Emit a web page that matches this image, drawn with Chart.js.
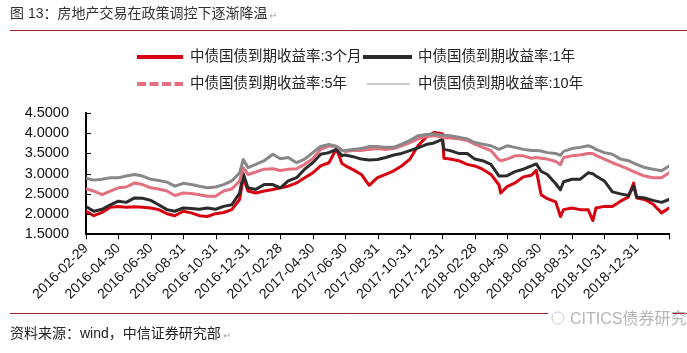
<!DOCTYPE html>
<html>
<head>
<meta charset="utf-8">
<script src="https://cdn.jsdelivr.net/npm/chart.js@4.4.0/dist/chart.umd.min.js"></script>
<style>
  html, body { margin: 0; padding: 0; background: #fff; }
  #wrap { width: 687px; height: 353px; }
</style>
</head>
<body>
<div id="wrap"><canvas id="bondChart" width="687" height="353"></canvas></div>
<script>
// observation dates (roughly half-monthly, plus a few turning points)
const dates = [
  '2016-02-29', '2016-03-15', '2016-03-31', '2016-04-15', '2016-04-30', '2016-05-15', '2016-05-31', '2016-06-15', '2016-06-30', '2016-07-15',
  '2016-07-31', '2016-08-15', '2016-08-31', '2016-09-15', '2016-09-30', '2016-10-15', '2016-10-31', '2016-11-15', '2016-11-30', '2016-12-15',
  '2016-12-22', '2016-12-31', '2017-01-15', '2017-01-31', '2017-02-15', '2017-02-28', '2017-03-15', '2017-03-31', '2017-04-15', '2017-04-30',
  '2017-05-15', '2017-05-31', '2017-06-14', '2017-06-24', '2017-06-30', '2017-07-15', '2017-07-31', '2017-08-15', '2017-08-31', '2017-09-15',
  '2017-09-30', '2017-10-15', '2017-10-31', '2017-11-15', '2017-11-30', '2017-12-15', '2017-12-31', '2018-01-03', '2018-01-15', '2018-01-31',
  '2018-02-15', '2018-02-28', '2018-03-15', '2018-03-31', '2018-04-15', '2018-04-18', '2018-04-30', '2018-05-15', '2018-05-31', '2018-06-15',
  '2018-06-24', '2018-07-03', '2018-07-15', '2018-07-31', '2018-08-09', '2018-08-15', '2018-08-31', '2018-09-15', '2018-09-30', '2018-10-09',
  '2018-10-15', '2018-10-31', '2018-11-15', '2018-11-30', '2018-12-15', '2018-12-25', '2018-12-31', '2019-01-15', '2019-01-31', '2019-02-15',
  '2019-02-28'
];

const yield3m = [
  2.07, 1.96, 2.04, 2.17, 2.19, 2.17, 2.18, 2.17, 2.15, 2.11,
  2.01, 1.96, 2.07, 2.03, 1.96, 1.94, 2.01, 2.04, 2.11, 2.36,
  2.90, 2.57, 2.52, 2.57, 2.61, 2.65, 2.69, 2.77, 2.90, 3.02,
  3.19, 3.27, 3.62, 3.25, 3.20, 3.10, 2.98, 2.71, 2.90, 2.98,
  3.07, 3.19, 3.36, 3.69, 3.90, 4.02, 3.99, 3.38, 3.36, 3.32,
  3.23, 3.19, 3.11, 2.98, 2.72, 2.52, 2.68, 2.77, 2.92, 2.96,
  3.08, 2.48, 2.38, 2.30, 1.94, 2.11, 2.15, 2.11, 2.11, 1.84,
  2.15, 2.19, 2.19, 2.32, 2.42, 2.77, 2.40, 2.36, 2.25, 2.03,
  2.15
];

const yield1y = [
  2.19, 2.07, 2.12, 2.23, 2.32, 2.29, 2.40, 2.39, 2.34, 2.23,
  2.11, 2.07, 2.15, 2.14, 2.12, 2.15, 2.12, 2.19, 2.23, 2.52,
  3.00, 2.65, 2.61, 2.73, 2.73, 2.65, 2.82, 2.90, 3.11, 3.27,
  3.48, 3.52, 3.60, 3.45, 3.46, 3.42, 3.36, 3.34, 3.35, 3.40,
  3.46, 3.50, 3.57, 3.64, 3.72, 3.76, 3.85, 3.60, 3.57, 3.50,
  3.50, 3.36, 3.32, 3.23, 2.94, 2.94, 2.95, 3.05, 3.11, 3.19,
  3.24, 3.06, 2.98, 2.75, 2.60, 2.80, 2.86, 2.86, 3.02, 3.00,
  2.94, 2.82, 2.55, 2.50, 2.46, 2.69, 2.42, 2.40, 2.34, 2.29,
  2.36
];

const yield5y = [
  2.62, 2.57, 2.48, 2.57, 2.65, 2.67, 2.77, 2.73, 2.65, 2.62,
  2.57, 2.46, 2.52, 2.51, 2.48, 2.44, 2.44, 2.57, 2.62, 2.82,
  3.15, 2.98, 3.04, 3.11, 3.12, 3.08, 3.11, 3.12, 3.23, 3.37,
  3.60, 3.68, 3.68, 3.58, 3.55, 3.57, 3.57, 3.60, 3.62, 3.60,
  3.62, 3.69, 3.77, 3.86, 3.92, 3.94, 3.90, 3.89, 3.88, 3.86,
  3.82, 3.73, 3.65, 3.57, 3.34, 3.32, 3.36, 3.44, 3.44, 3.38,
  3.40, 3.38, 3.36, 3.30, 3.22, 3.40, 3.44, 3.46, 3.50, 3.50,
  3.45, 3.36, 3.27, 3.19, 3.11, 3.05, 3.02, 2.94, 2.90, 2.90,
  3.02
];

const yield10y = [
  2.89, 2.84, 2.86, 2.90, 2.90, 2.94, 2.98, 2.94, 2.86, 2.83,
  2.79, 2.69, 2.76, 2.73, 2.69, 2.65, 2.67, 2.73, 2.82, 3.02,
  3.35, 3.15, 3.23, 3.32, 3.48, 3.37, 3.40, 3.27, 3.36, 3.52,
  3.67, 3.72, 3.67, 3.58, 3.57, 3.60, 3.62, 3.67, 3.67, 3.65,
  3.65, 3.73, 3.82, 3.94, 3.97, 3.98, 3.95, 3.95, 3.94, 3.90,
  3.86, 3.77, 3.73, 3.69, 3.60, 3.62, 3.69, 3.65, 3.60, 3.57,
  3.57, 3.56, 3.52, 3.50, 3.45, 3.55, 3.62, 3.65, 3.69, 3.65,
  3.60, 3.52, 3.48, 3.36, 3.32, 3.26, 3.23, 3.15, 3.11, 3.07,
  3.19
];

// x axis labels, one every two months (last tick unlabeled)
const tickLabels = [
  '2016-02-29', '2016-04-30', '2016-06-30', '2016-08-31', '2016-10-31', '2016-12-31',
  '2017-02-28', '2017-04-30', '2017-06-30', '2017-08-31', '2017-10-31', '2017-12-31',
  '2018-02-28', '2018-04-30', '2018-06-30', '2018-08-31', '2018-10-31', '2018-12-31', ''
];

const seriesNames = ['中债国债到期收益率:3个月', '中债国债到期收益率:1年', '中债国债到期收益率:5年', '中债国债到期收益率:10年'];

const FONT = '"Liberation Sans", "Noto Sans CJK SC", sans-serif';

// months since 2016-02-29 (month ends land on whole numbers)
function toMonths(s) {
  const [y, m, d] = s.split('-').map(Number);
  const dim = new Date(y, m, 0).getDate();
  return (y - 2016) * 12 + (m - 3) + d / dim;
}

function points(arr) {
  return dates.map((d, i) => ({ x: toMonths(d), y: arr[i] }));
}

function textWidth(ctx, text, font) {
  const old = ctx.font;
  ctx.font = font;
  const w = ctx.measureText(text).width;
  ctx.font = old;
  return w;
}

// title, legend, footer and the small axis ticks
const decor = {
  id: 'decor',
  afterDraw(chart) {
    const ctx = chart.ctx;
    const xs = chart.scales.x, ys = chart.scales.y;
    ctx.save();

    ctx.strokeStyle = '#000';
    ctx.lineWidth = 1;
    xs.ticks.forEach(t => {
      const px = Math.round(xs.getPixelForValue(t.value)) + 0.5;
      ctx.beginPath(); ctx.moveTo(px, ys.bottom); ctx.lineTo(px, ys.bottom + 5); ctx.stroke();
    });
    ys.ticks.forEach(t => {
      const py = Math.round(ys.getPixelForValue(t.value)) + 0.5;
      ctx.beginPath(); ctx.moveTo(xs.left, py); ctx.lineTo(xs.left + 5, py); ctx.stroke();
    });

    // title
    ctx.textBaseline = 'middle';
    ctx.textAlign = 'left';
    const titleFont = '14px ' + FONT;
    const title = '图 13：房地产交易在政策调控下逐渐降温';
    ctx.fillStyle = '#333';
    ctx.font = titleFont;
    ctx.fillText(title, 10, 14);
    ctx.fillStyle = '#aaa';
    ctx.font = '10px ' + FONT;
    ctx.fillText('↵', 12 + textWidth(ctx, title, titleFont), 16);

    ctx.strokeStyle = '#9b2226';
    ctx.lineWidth = 1;
    ctx.beginPath(); ctx.moveTo(10, 30.5); ctx.lineTo(687, 30.5); ctx.stroke();

    // legend
    const ds = chart.data.datasets;
    const slots = [
      { sx: 137, ex: 183, tx: 190, y: 57 },
      { sx: 363, ex: 412, tx: 418, y: 57 },
      { sx: 137, ex: 183, tx: 190, y: 84 },
      { sx: 367, ex: 410, tx: 418, y: 84 }
    ];
    ds.forEach((d, i) => {
      const s = slots[i];
      ctx.strokeStyle = d.legendColor || d.borderColor;
      ctx.lineWidth = d.legendWidth;
      ctx.setLineDash(d.legendDash || []);
      ctx.beginPath(); ctx.moveTo(s.sx, s.y); ctx.lineTo(s.ex, s.y); ctx.stroke();
      ctx.setLineDash([]);
      ctx.fillStyle = '#222';
      ctx.font = '14.5px ' + FONT;
      ctx.fillText(d.label, s.tx, s.y);
    });

    // footer
    ctx.strokeStyle = '#9b2226';
    ctx.beginPath(); ctx.moveTo(10, 313.5); ctx.lineTo(687, 313.5); ctx.stroke();
    ctx.fillStyle = '#fff';
    ctx.fillRect(548, 306, 124, 16);
    ctx.fillStyle = '#b5b5b5';
    ctx.font = '16px ' + FONT;
    ctx.fillText('CITICS债券研究', 570, 320);
    ctx.strokeStyle = '#c8c8c8';
    ctx.beginPath(); ctx.arc(558, 318, 6, 0, Math.PI * 2); ctx.stroke();

    const srcFont = '14px ' + FONT;
    const src = '资料来源：wind，中信证券研究部';
    ctx.fillStyle = '#222';
    ctx.font = srcFont;
    ctx.fillText(src, 10, 334);
    ctx.fillStyle = '#aaa';
    ctx.font = '10px ' + FONT;
    ctx.fillText('↵', 12 + textWidth(ctx, src, srcFont), 336);
    ctx.restore();
  }
};

new Chart(document.getElementById('bondChart'), {
  type: 'line',
  data: {
    datasets: [
      { label: seriesNames[0], data: points(yield3m), borderColor: '#d7000f', borderWidth: 3, legendWidth: 4, order: 4 },
      { label: seriesNames[1], data: points(yield1y), borderColor: '#2b2b2b', borderWidth: 3, legendWidth: 4, order: 3 },
      { label: seriesNames[2], data: points(yield5y), borderColor: '#e2707f', borderWidth: 3, legendWidth: 4, legendDash: [9, 3.5], order: 2 },
      { label: seriesNames[3], data: points(yield10y), borderColor: '#888888', borderWidth: 3, legendWidth: 1, legendColor: '#999', order: 1 }
    ]
  },
  options: {
    responsive: false,
    animation: false,
    devicePixelRatio: 1,
    layout: { padding: { top: 113, right: 13, left: 0, bottom: 0 } },
    elements: {
      point: { radius: 0 },
      line: { tension: 0, borderJoinStyle: 'round', borderCapStyle: 'round' }
    },
    plugins: {
      legend: { display: false },
      tooltip: { enabled: false }
    },
    scales: {
      x: {
        type: 'linear',
        min: 0,
        max: 36,
        afterFit(scale) { scale.height = 118.7; },
        grid: { display: false, drawTicks: false },
        border: { display: true, color: '#000', width: 2 },
        ticks: {
          stepSize: 2,
          autoSkip: false,
          minRotation: 45,
          maxRotation: 45,
          padding: 6,
          color: '#111',
          font: { family: FONT, size: 14 },
          callback: v => tickLabels[Math.round(v / 2)]
        }
      },
      y: {
        min: 1.5,
        max: 4.5,
        afterFit(scale) { scale.width = 86; },
        grid: { display: false, drawTicks: false },
        border: { display: true, color: '#000', width: 2 },
        ticks: {
          stepSize: 0.5,
          autoSkip: false,
          padding: 17,
          color: '#111',
          font: { family: FONT, size: 14.5 },
          callback: v => v.toFixed(4)
        }
      }
    }
  },
  plugins: [decor]
});
</script>
</body>
</html>
